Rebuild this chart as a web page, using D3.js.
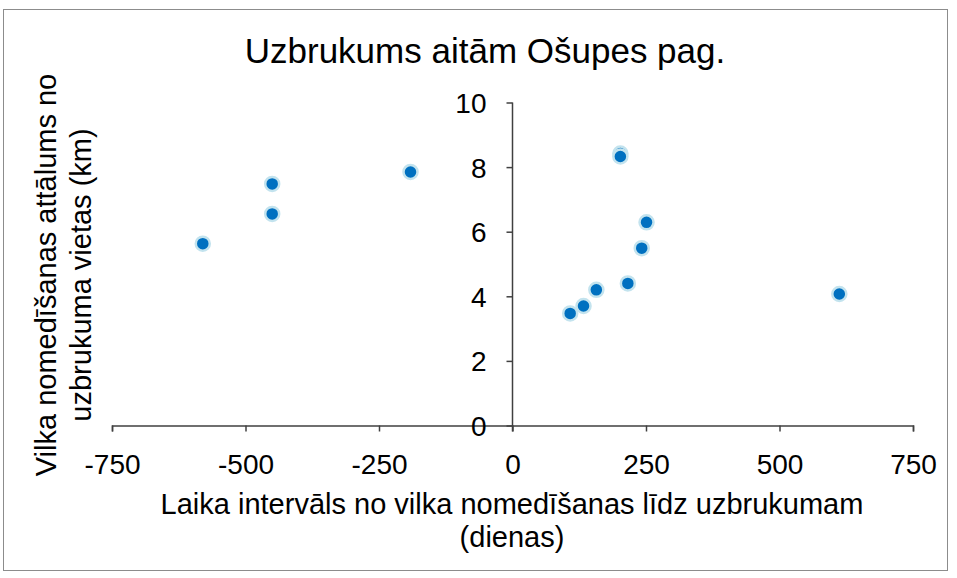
<!DOCTYPE html>
<html>
<head>
<meta charset="utf-8">
<script src="https://cdn.jsdelivr.net/npm/d3@7"></script>
<style>
  body { margin: 0; background: #fff; }
  text { font-family: "Liberation Sans", Arial, sans-serif; }
</style>
</head>
<body>
<svg id="chart"></svg>
<script>
// data
const days = [-580, -450, -450, -191, 202, 202, 251, 242, 216, 157, 133, 108, 612]
const distKm = [5.63, 7.48, 6.55, 7.85, 8.42, 8.33, 6.29, 5.49, 4.40, 4.20, 3.70, 3.47, 4.07]
const xTicks = [-750, -500, -250, 0, 250, 500, 750]
const yTicks = [0, 2, 4, 6, 8, 10]

const width = 957
const height = 578

const svg = d3.select('#chart')
    .attr('width', width)
    .attr('height', height)

// chart border
svg.append('rect')
    .attr('x', 3.5).attr('y', 9.5)
    .attr('width', 944).attr('height', 561)
    .attr('fill', '#fff')
    .attr('stroke', '#8c8c8c')
    .attr('stroke-width', 1)

const x = d3.scaleLinear().domain([-750, 750]).range([112, 913])
const y = d3.scaleLinear().domain([0, 10]).range([425.5, 102.5])

// x axis at y=0
const xAxis = svg.append('g')
    .attr('transform', `translate(0,${y(0)})`)
    .call(d3.axisBottom(x).tickValues(xTicks).tickSize(6).tickSizeOuter(6).tickFormat(d3.format('d')))
xAxis.select('.domain').attr('stroke', '#404040').attr('stroke-width', 1.5)
xAxis.selectAll('.tick line').attr('stroke', '#404040').attr('stroke-width', 1.5)
xAxis.selectAll('.tick text')
    .attr('y', 0).attr('dy', '48px')
    .style('font-size', '28px').attr('fill', '#000')
    .text(d => d < 0 ? '-' + Math.abs(d) : d)

// y axis at x=0
const yAxis = svg.append('g')
    .attr('transform', `translate(${x(0)},0)`)
    .call(d3.axisLeft(y).tickValues(yTicks).tickSize(6).tickSizeOuter(0))
yAxis.select('.domain').attr('stroke', '#404040').attr('stroke-width', 1.5)
    .attr('d', `M0,${y(10)}V${y(0) + 6}`)
yAxis.selectAll('.tick line').attr('stroke', '#404040').attr('stroke-width', 1.5)
yAxis.selectAll('.tick text')
    .attr('x', -26).attr('dy', '0.36em')
    .style('font-size', '28px').attr('fill', '#000')

// points
const pts = days.map((d, i) => ({ day: d, km: distKm[i] }))
svg.append('g')
    .selectAll('circle')
    .data(pts)
    .join('circle')
    .attr('cx', d => x(d.day))
    .attr('cy', d => y(d.km))
    .attr('r', 7)
    .attr('fill', '#0070c0')
    .attr('stroke', '#c3e3ee')
    .attr('stroke-width', 2.5)

// title
svg.append('text')
    .attr('x', 485).attr('y', 63)
    .attr('text-anchor', 'middle')
    .style('font-size', '35px')
    .text('Uzbrukums aitām Ošupes pag.')

// x axis title
const xt = svg.append('text')
    .attr('text-anchor', 'middle')
    .style('font-size', '29px')
xt.append('tspan').attr('x', 512).attr('y', 514).text('Laika intervāls no vilka nomedīšanas līdz uzbrukumam')
xt.append('tspan').attr('x', 512).attr('y', 547).text('(dienas)')

// y axis title
const yt = svg.append('text')
    .attr('text-anchor', 'middle')
    .attr('transform', 'translate(0,275) rotate(-90)')
    .style('font-size', '29px')
yt.append('tspan').attr('x', 0).attr('y', 56).text('Vilka nomedīšanas attālums no')
yt.append('tspan').attr('x', 0).attr('y', 91).text('uzbrukuma vietas (km)')
</script>
</body>
</html>
